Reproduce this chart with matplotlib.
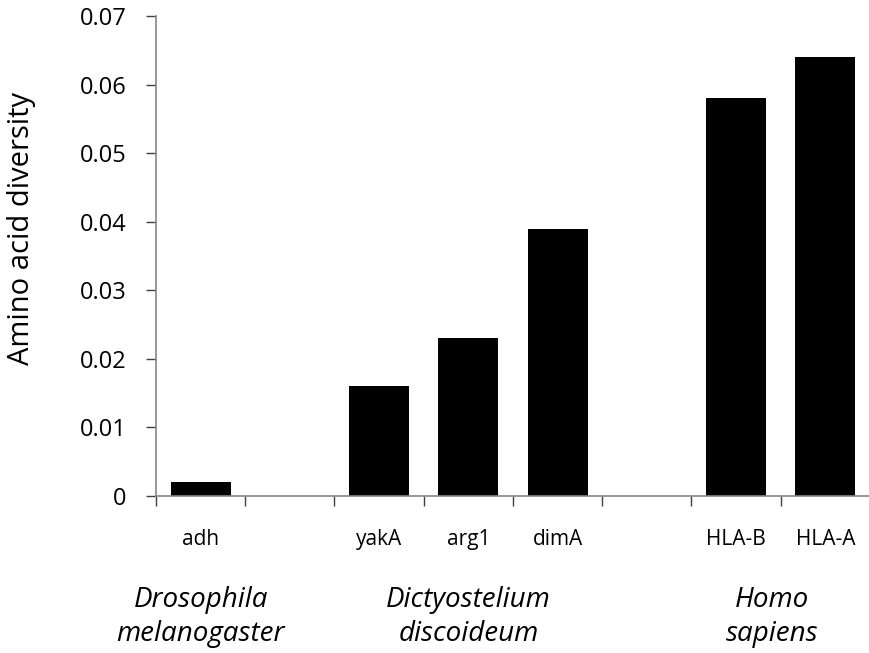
import matplotlib
matplotlib.use("Agg")
import matplotlib.pyplot as plt
import matplotlib.transforms as mtransforms

# Data
genes = ["adh", "", "yakA", "arg1", "dimA", "", "HLA-B", "HLA-A"]
diversity = [0.002, 0, 0.016, 0.023, 0.039, 0, 0.058, 0.064]
species = ["Drosophila\nmelanogaster", "Dictyostelium\ndiscoideum", "Homo\nsapiens"]
species_pos = [0.0, 3.0, 6.4]

plt.rcParams['font.family'] = ['Open Sans', 'DejaVu Sans']

fig = plt.figure(figsize=(8.7, 6.53), dpi=100)
ax = fig.add_axes([0.1793, 0.2404, 0.8207, 0.7351])

x = list(range(len(genes)))
ax.bar(x, diversity, width=0.67, color="black")

ax.set_xlim(-0.5, len(genes) - 0.5)
ax.set_ylim(0, 0.07)
ax.set_yticks([i / 100 for i in range(8)])
ax.set_yticklabels(["0"] + ["%.2f" % (i / 100) for i in range(1, 8)], fontsize=17)

# tick marks at slot boundaries, labels at slot centres
ax.set_xticks([i - 0.5 for i in range(len(genes))])
ax.set_xticklabels([])
ax.set_xticks(x, minor=True)
ax.set_xticklabels(genes, minor=True, fontsize=15)
ax.tick_params(axis="x", which="minor", length=0, pad=24)
ax.tick_params(axis="x", which="major", length=7, color="#404040", width=1)
ax.tick_params(axis="y", length=7, color="#404040", width=1, pad=14)

for s in ["top", "right"]:
    ax.spines[s].set_visible(False)
for s in ["left", "bottom"]:
    ax.spines[s].set_color("#868686")
    ax.spines[s].set_linewidth(1.2)

ax.set_ylabel("Amino acid diversity", fontsize=21, va="center")
ax.yaxis.set_label_coords(-0.188, 0.558)

trans = mtransforms.blended_transform_factory(ax.transData, ax.transAxes)
for name, pos in zip(species, species_pos):
    ax.text(pos, -0.252, name, transform=trans, ha="center", va="center",
            fontsize=20, style="italic", linespacing=1.3)

fig.savefig("out.png", dpi=100)
